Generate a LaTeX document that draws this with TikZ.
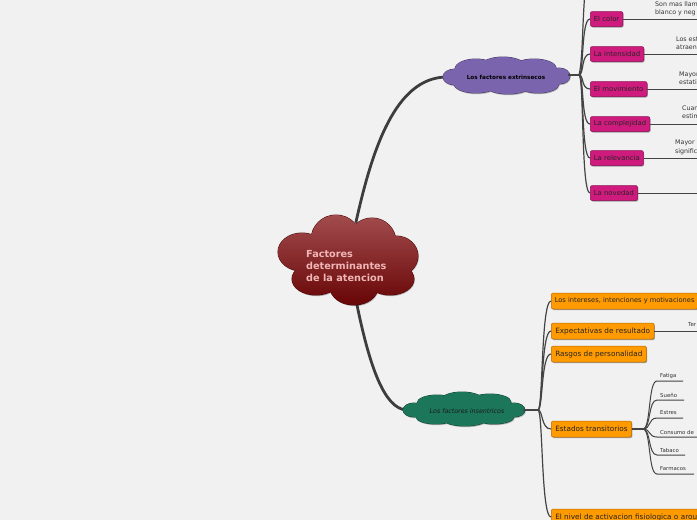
\documentclass[tikz,border=0pt]{standalone}
\usepackage{fontspec}
\setmainfont{DejaVu Sans}
\usetikzlibrary{shadows}
\definecolor{bgc}{HTML}{F1F1F1}
\definecolor{pinkf}{HTML}{D01B7E}
\definecolor{pinkd}{HTML}{8E1054}
\definecolor{orangef}{HTML}{FF9A00}
\definecolor{oranged}{HTML}{B86B00}
\definecolor{purplef}{HTML}{7B64AE}
\definecolor{greenf}{HTML}{1C775A}
\definecolor{redtop}{HTML}{A24C4E}
\definecolor{redbot}{HTML}{680506}
\definecolor{linec}{HTML}{444444}
\definecolor{txtc}{HTML}{333333}
\definecolor{roottxt}{HTML}{F0B6B6}
\newcommand\rootcloudpath{
  (348,262) ellipse[x radius=52,y radius=30]
  (336,240) circle[radius=25]
  (372,242) circle[radius=24]
  (302,252) ellipse[x radius=24,y radius=19]
  (396,256) ellipse[x radius=22,y radius=20]
  (316,279) ellipse[x radius=24,y radius=16]
  (354,287) ellipse[x radius=24,y radius=18]
  (390,279) ellipse[x radius=24,y radius=16]
}
\newcommand\purplecloudpath{
  (507,76) ellipse[x radius=55,y radius=12]
  (476,69) ellipse[x radius=21,y radius=10]
  (503,66) ellipse[x radius=22,y radius=9]
  (534,68) ellipse[x radius=22,y radius=9]
  (476,84) ellipse[x radius=22,y radius=9]
  (508,86) ellipse[x radius=22,y radius=8]
  (538,84) ellipse[x radius=21,y radius=9]
  (455,77) ellipse[x radius=12,y radius=8]
  (559,76) ellipse[x radius=11,y radius=8]
}
\newcommand\greencloudpath{
  (464,410) ellipse[x radius=52,y radius=10]
  (437,403) ellipse[x radius=20,y radius=8]
  (462,400) ellipse[x radius=21,y radius=8]
  (490,402) ellipse[x radius=21,y radius=8]
  (436,417) ellipse[x radius=20,y radius=7]
  (465,419) ellipse[x radius=22,y radius=7]
  (494,417) ellipse[x radius=20,y radius=7]
  (414,410) ellipse[x radius=11,y radius=7]
  (514,410) ellipse[x radius=11,y radius=7]
}
\tikzset{
  shadowed/.style={drop shadow={shadow xshift=0.8pt,shadow yshift=-1pt,opacity=0.35,fill=black}},
  pinkbox/.style={draw=pinkd,line width=0.5pt,fill=pinkf,rounded corners=2pt,font=\fontsize{6.9}{7.5}\selectfont,text=black!85,inner xsep=3.6pt,inner ysep=0pt,minimum height=15pt,anchor=west,shadowed},
  orangebox/.style={draw=oranged,line width=0.5pt,fill=orangef,rounded corners=2pt,font=\fontsize{7.3}{8}\selectfont,text=black!85,inner xsep=4pt,inner ysep=0pt,minimum height=16pt,anchor=west,shadowed},
  desctext/.style={font=\fontsize{6.3}{8.4}\selectfont,text=txtc,align=left,anchor=west,inner sep=0pt},
  leaftext/.style={font=\fontsize{5.4}{6}\selectfont,text=txtc,anchor=west,inner sep=0pt},
  branch/.style={draw=linec,line width=1.2pt},
  thinline/.style={draw=linec,line width=1pt},
  mainline/.style={draw=linec!90!black,line width=2.8pt,line cap=round},
  cloudshadow/.style={fill=black,opacity=0.25,xshift=0.8pt,yshift=-1.2pt},
}
\begin{document}
\begin{tikzpicture}[x=1pt,y=-1pt]
\fill[bgc] (0,0) rectangle (697,520);
\useasboundingbox (0,0) rectangle (697,520);
\clip (0,0) rectangle (697,520);

% main connectors (under clouds)
\coordinate (r1) at (356,222);
\coordinate (r2) at (356,300);
\coordinate (extw) at (446,77);
\coordinate (insw) at (406,410);
\draw[mainline] (r1) .. controls (372,150) and (395,78) .. (extw);
\draw[mainline] (r2) .. controls (370,370) and (385,408) .. (insw);

% root cloud
\path[cloudshadow] \rootcloudpath;
\draw[redbot!70!black,line width=1pt] \rootcloudpath;
\shade[top color=redtop,bottom color=redbot] \rootcloudpath;
\node[anchor=west,align=left,font=\bfseries\fontsize{9.7}{12}\selectfont,text=roottxt,inner sep=0pt] (root) at (306,266) {Factores\\determinantes\\de la atencion};

% purple cloud
\path[cloudshadow] \purplecloudpath;
\draw[purplef!55!black,line width=0.9pt] \purplecloudpath;
\fill[purplef] \purplecloudpath;
\node[font=\bfseries\fontsize{5.7}{6}\selectfont,text=black,inner sep=1pt] (ext) at (506,77) {Los factores extrinsecos};

% green cloud
\path[cloudshadow] \greencloudpath;
\draw[greenf!55!black,line width=0.9pt] \greencloudpath;
\fill[greenf] \greencloudpath;
\node[font=\itshape\fontsize{6.3}{7}\selectfont,text=black!90,inner sep=1pt] (ins) at (467,411) {Los factores insentricos};

% extrinsic branch
\coordinate (exte) at (568,75);
\coordinate (hubA) at (579,75);
\draw[branch] (exte) -- (hubA);
\node[pinkbox] (color) at (590,19) {El color};
\node[pinkbox] (intens) at (590,54) {La intensidad};
\node[pinkbox] (movim) at (590,89) {El movimiento};
\node[pinkbox] (compl) at (590,124) {La complejidad};
\node[pinkbox] (relev) at (590,158) {La relevancia};
\node[pinkbox] (noved) at (590,193) {La novedad};
\coordinate (topoff) at (586,-20);
\draw[branch] (hubA) .. controls (583,60) and (582,20) .. (topoff);
\foreach \n/\y in {color/19,intens/54,movim/89,compl/124,relev/158,noved/193}{
  \draw[branch] (hubA) .. controls (584,75) and (581,\y) .. (\n.west);
}
% descriptions
\foreach \n/\y in {color/19,intens/54,movim/89,compl/124,relev/158,noved/193}{
  \coordinate (\n end) at (700,\y);
  \draw[thinline] (\n.east) -- (\n end);
}
\node[desctext] (d1) at (655,8.5) {Son mas llam\\blanco y neg};
\node[desctext] (d2) at (676,43.5) {Los est\\atraen};
\node[desctext] (d3) at (679,78.5) {Mayor\\estati};
\node[desctext] (d4) at (682,112.5) {Cuan\\estim};
\node[desctext] (d5) at (675,147.5) {Mayor\\signific};

% intrinsic branch
\coordinate (inse) at (523,410);
\coordinate (hubB) at (538,410);
\draw[branch] (inse) -- (hubB);
\node[orangebox,font=\fontsize{6.7}{8}\selectfont,inner xsep=3.5pt] (inter) at (551,301) {Los intereses, intenciones y motivaciones};
\node[orangebox] (expec) at (551,331) {Expectativas de resultado};
\node[orangebox] (rasgo) at (551,354) {Rasgos de personalidad};
\node[orangebox] (estad) at (551,429) {Estados transitorios};
\node[orangebox] (nivel) at (551,517) {El nivel de activacion fisiologica o arousal};
\foreach \n in {inter,expec,rasgo,estad,nivel}{
  \draw[branch] (hubB) .. controls (543,410) and (541,0|-\n.west) .. (\n.west);
}
\coordinate (expecend) at (700,331);
\draw[thinline] (expec.east) -- (expecend);
\node[leaftext] (ter) at (688,325) {Ter};

% estados transitorios leaves
\coordinate (hubC) at (643,429);
\draw[branch] (estad.east) -- (hubC);
\foreach \t/\y/\e in {Fatiga/381/683,Sueño/400/684,Estres/418/683,Consumo de/437/700,Tabaco/455/685,Farmacos/474/694}{
  \node[leaftext] (leaf\y) at (660,\y-5) {\t};
  \coordinate (ls\y) at (657,\y);
  \coordinate (le\y) at (\e,\y);
  \draw[thinline] (hubC) .. controls (651,429) and (648,\y) .. (ls\y) -- (le\y);
}
\end{tikzpicture}
\end{document}
